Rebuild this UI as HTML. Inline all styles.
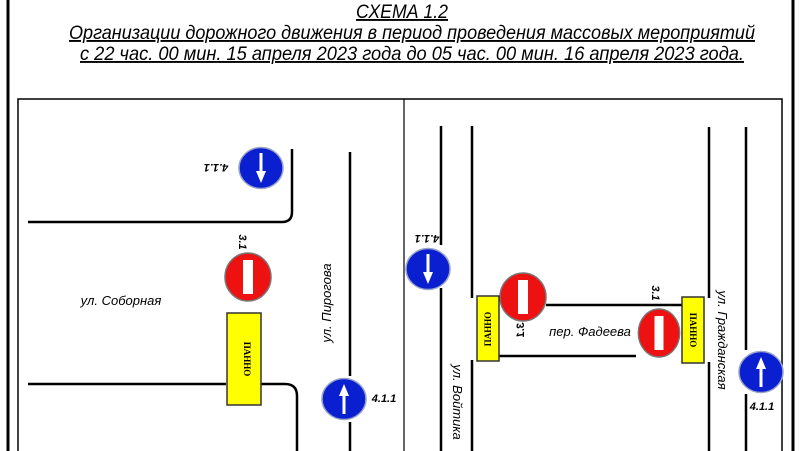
<!DOCTYPE html>
<html><head><meta charset="utf-8"><style>html,body{margin:0;padding:0;background:#fff}svg{display:block}</style></head>
<body>
<svg width="800" height="451" viewBox="0 0 800 451" xmlns="http://www.w3.org/2000/svg" font-family="Liberation Sans, sans-serif">
<defs>
<g id="blue"><ellipse cx="0" cy="0" rx="22" ry="20.5" fill="#0a1fd0" stroke="#9aa4c8" stroke-width="1.5"/><rect x="-1.5" y="-5" width="3" height="20" fill="#fff"/><polygon points="-5,-3 5,-3 0,-15" fill="#fff"/></g>
<g id="red"><ellipse cx="0" cy="0" rx="23" ry="24" fill="#ee1111" stroke="#777" stroke-width="1.5"/><rect x="-5" y="-17" width="10" height="34" fill="#fff"/></g>
</defs>
<rect x="8" y="-5" width="785" height="470" fill="none" stroke="#000" stroke-width="3"/>
<rect x="18" y="99" width="764" height="360" fill="none" stroke="#000" stroke-width="1.5"/>
<line x1="404" y1="99" x2="404" y2="451" stroke="#000" stroke-width="1.2"/>
<g font-style="italic" font-size="19" text-anchor="middle" text-decoration="underline" fill="#000">
<text x="402" y="18" textLength="92" lengthAdjust="spacingAndGlyphs">СХЕМА 1.2</text>
<text x="412" y="39" textLength="686" lengthAdjust="spacingAndGlyphs">Организации дорожного движения в период проведения массовых мероприятий</text>
<text x="412" y="60" textLength="664" lengthAdjust="spacingAndGlyphs">с 22 час. 00 мин. 15 апреля 2023 года  до 05 час. 00 мин. 16 апреля 2023 года.</text>
</g>
<g stroke="#000" stroke-width="2.5" fill="none">
<path d="M28 222 H282 Q292 222 292 212 V149"/>
<path d="M350 152 V376 M350 422 V451"/>
<path d="M28 384 H226 M261 384 H285 Q297 384 297 396 V451"/>
<path d="M441 126 V245 M441 288 V451"/>
<path d="M472 126 V298 M472 360 V451"/>
<path d="M546 305 H682"/>
<path d="M499 356 H636"/>
<path d="M709 127 V298 M709 362 V451"/>
<path d="M746 127 V350 M746 394 V451"/>
</g>
<use href="#blue" x="261" y="168" transform="rotate(180 261 168)"/>
<use href="#blue" x="344" y="399"/>
<use href="#blue" x="428" y="269" transform="rotate(180 428 269)"/>
<use href="#blue" x="761" y="372"/>
<use href="#red" x="248" y="277"/>
<use href="#red" x="523" y="297"/>
<use href="#red" x="659" y="333" transform="scale(0.9 1)" style="transform-origin:659px 333px"/>
<g fill="#ffff00" stroke="#333" stroke-width="1.5">
<rect x="227" y="313" width="34" height="92"/>
<rect x="477" y="296" width="22" height="65"/>
<rect x="682" y="297" width="22" height="66"/>
</g>
<g font-family="Liberation Serif, serif" font-weight="bold" font-size="9" text-anchor="middle" fill="#000">
<text transform="translate(247,359) rotate(90)" y="3">ПАННО</text>
<text transform="translate(488,329) rotate(-90)" y="3">ПАННО</text>
<text transform="translate(693,330) rotate(90)" y="3">ПАННО</text>
</g>
<g font-style="italic" font-weight="bold" font-size="11" text-anchor="middle" fill="#000">
<text transform="translate(216,168) rotate(180)" y="4">4.1.1</text>
<text x="384" y="402">4.1.1</text>
<text transform="translate(427,239) rotate(180)" y="4">4.1.1</text>
<text x="762" y="410">4.1.1</text>
<text transform="translate(243,242) rotate(90)" y="4">3.1</text>
<text transform="translate(520,330) rotate(-90) scale(-1,1)" y="4">3.1</text>
<text transform="translate(656,293) rotate(90)" y="4">3.1</text>
</g>
<g font-style="italic" font-size="13" fill="#000" text-anchor="middle">
<text x="121" y="305">ул. Соборная</text>
<text x="590" y="336">пер. Фадеева</text>
<text transform="translate(327,303) rotate(-90)" y="4">ул. Пирогова</text>
<text transform="translate(457,402) rotate(90)" y="4">ул. Войтика</text>
<text transform="translate(722,340) rotate(90)" y="4">ул. Гражданская</text>
</g>
</svg>
</body></html>
